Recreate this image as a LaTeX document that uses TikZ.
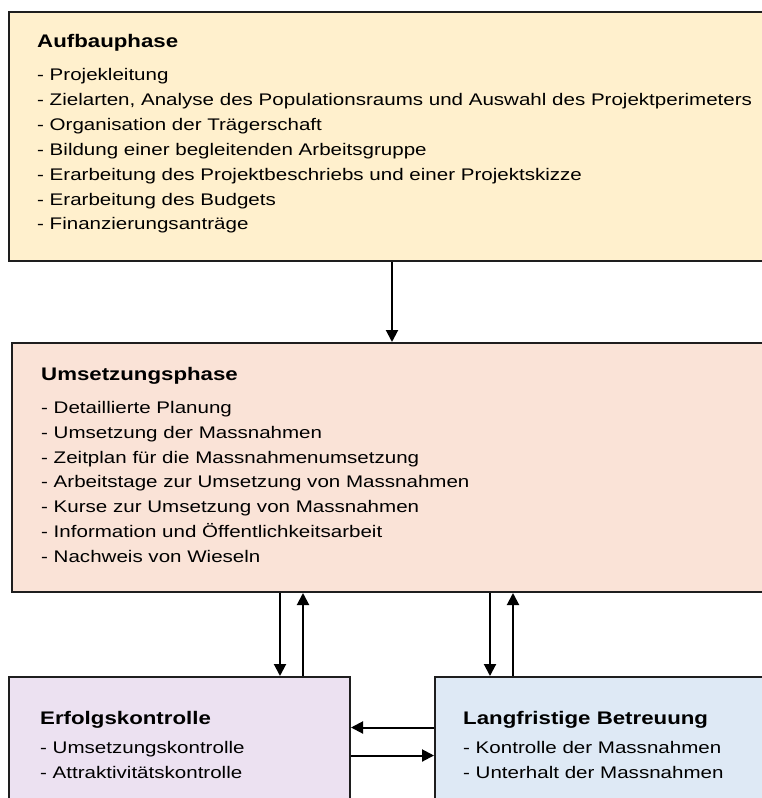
\documentclass[tikz,border=0pt]{standalone}
\usepackage{fontspec}
\setmainfont{Liberation Sans}[FakeStretch=1.223]
\usetikzlibrary{arrows.meta}
\definecolor{cA}{HTML}{FFF0CD}
\definecolor{cB}{HTML}{FAE3D7}
\definecolor{cC}{HTML}{ECE1F1}
\definecolor{cD}{HTML}{DEE9F5}
\definecolor{edge}{HTML}{1E1E1E}
\tikzset{
  box/.style={draw=edge, line width=2pt, rectangle, inner sep=0pt},
  ttl/.style={anchor=base west, inner sep=0pt, font=\fontsize{18.2}{21}\selectfont\bfseries},
  itm/.style={anchor=base west, inner sep=0pt, font=\fontsize{16.8}{20}\selectfont},
  arr/.style={draw=black, line width=2pt, -{Triangle[length=12pt,width=12pt]}}
}
\begin{document}
\begin{tikzpicture}[x=1pt,y=-1pt]
\useasboundingbox (0,0) rectangle (762,798);
\clip (0,0) rectangle (762,798);
\node[box, fill=cA, minimum width=766pt, minimum height=249pt] (aufbau) at (392,136.5) {};
\node[box, fill=cB, minimum width=760pt, minimum height=249pt] (umsetz) at (392,467.5) {};
\node[box, fill=cC, minimum width=341pt, minimum height=183pt] (erfolg) at (179.5,768.5) {};
\node[box, fill=cD, minimum width=365pt, minimum height=183pt] (lang) at (617.5,768.5) {};

\node[ttl] (t1) at (37,47.3) {Aufbauphase};
\foreach \s [count=\i from 0] in {Projekleitung,{Zielarten, Analyse des Populationsraums und Auswahl des Projektperimeters},Organisation der Trägerschaft,Bildung einer begleitenden Arbeitsgruppe,Erarbeitung des Projektbeschriebs und einer Projektskizze,Erarbeitung des Budgets,Finanzierungsanträge}
  \node[itm] (a\i) at (37,80.5+24.9*\i) {- \s};

\node[ttl] (t2) at (41,380.7) {Umsetzungsphase};
\foreach \s [count=\i from 0] in {Detaillierte Planung,Umsetzung der Massnahmen,Zeitplan für die Massnahmenumsetzung,Arbeitstage zur Umsetzung von Massnahmen,Kurse zur Umsetzung von Massnahmen,Information und Öffentlichkeitsarbeit,Nachweis von Wieseln}
  \node[itm] (b\i) at (41,413.3+24.85*\i) {- \s};

\node[ttl] (t3) at (40,724) {Erfolgskontrolle};
\node[itm] (c0) at (40,753.5) {- Umsetzungskontrolle};
\node[itm] (c1) at (40,778) {- Attraktivitätskontrolle};

\node[ttl] (t4) at (463,724) {Langfristige Betreuung};
\node[itm] (d0) at (463,753.5) {- Kontrolle der Massnahmen};
\node[itm] (d1) at (463,778) {- Unterhalt der Massnahmen};

\coordinate (x1) at (280,0);
\coordinate (x2) at (303,0);
\coordinate (x3) at (490,0);
\coordinate (x4) at (513,0);
\coordinate (y1) at (0,727.5);
\coordinate (y2) at (0,755.5);

\draw[arr] (aufbau.south) -- (umsetz.north);
\draw[arr] (umsetz.south -| x1) -- (erfolg.north -| x1);
\draw[arr] (erfolg.north -| x2) -- (umsetz.south -| x2);
\draw[arr] (umsetz.south -| x3) -- (lang.north -| x3);
\draw[arr] (lang.north -| x4) -- (umsetz.south -| x4);
\draw[arr] (lang.west |- y1) -- (erfolg.east |- y1);
\draw[arr] (erfolg.east |- y2) -- (lang.west |- y2);
\end{tikzpicture}
\end{document}
